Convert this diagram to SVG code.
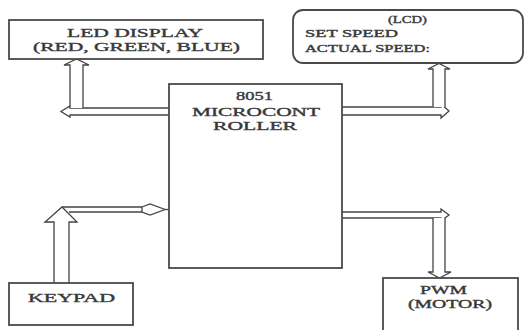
<svg xmlns="http://www.w3.org/2000/svg" width="525" height="330" viewBox="0 0 525 330">
<style>
.box{fill:#fff;stroke:#4a4a4a;stroke-width:1.8}
.t{font-family:"Liberation Serif","Times New Roman",serif;fill:#333;stroke:#444;stroke-width:0.4;font-size:13px}
.s{font-size:10.5px}
.p{font-size:12px}
.c{fill:#fff;stroke:#444;stroke-width:1.3;stroke-linejoin:miter}
.l{fill:none;stroke:#444;stroke-width:1.3}
</style>
<rect width="525" height="330" fill="#fff"/>
<g id="connectors">
  <path class="c" d="M169,108 L70,108 L70,106 L61,111.5 L70,117 L70,115 L169,115"/>
  <path class="c" d="M70,108 L70,65 L64,65 L76.5,59 L89,65 L83,65 L83,108"/>
  <path class="c" d="M342,107 L441,107 L441,104 L449,111 L441,118 L441,115 L342,115"/>
  <path class="c" d="M433,107 L433,69 L428,69 L439,63.5 L450,69 L445,69 L445,107"/>
  <path class="c" d="M54,283 L54,222 L45,222 L62,207 L77,222 L69,222 L69,283"/>
  <path class="l" d="M62,207 L142,207 M69,212 L142,212"/>
  <path class="c" d="M142,207 L150,204 L165,209.5 L150,215 L142,212 Z"/>
  <path class="l" d="M165,209.5 L169,209.5"/>
  <path class="c" d="M342,212 L441,212 L441,209 L449,215 L441,221 L441,218 L342,218"/>
  <path class="c" d="M433,218 L433,272 L428,272 L439.5,278 L451,272 L445,272 L445,218"/>
</g>
<g id="led">
  <rect class="box" x="9" y="20" width="254" height="39"/>
  <text class="t" x="67" y="37" textLength="136" lengthAdjust="spacingAndGlyphs">LED DISPLAY</text>
  <text class="t" x="33" y="51" textLength="207" lengthAdjust="spacingAndGlyphs">(RED, GREEN, BLUE)</text>
</g>
<g id="lcd">
  <rect class="box" x="293" y="10" width="230" height="53" rx="10"/>
  <text class="t s" x="388" y="23" textLength="39" lengthAdjust="spacingAndGlyphs">(LCD)</text>
  <text class="t s" x="305" y="37" textLength="93" lengthAdjust="spacingAndGlyphs">SET SPEED</text>
  <text class="t s" x="305" y="52" textLength="125" lengthAdjust="spacingAndGlyphs">ACTUAL SPEED:</text>
</g>
<g id="micro">
  <rect class="box" x="169" y="84" width="173" height="184"/>
  <text class="t" x="236" y="100" textLength="37" lengthAdjust="spacingAndGlyphs">8051</text>
  <text class="t" x="192" y="116" textLength="128" lengthAdjust="spacingAndGlyphs">MICROCONT</text>
  <text class="t" x="213" y="130" textLength="84" lengthAdjust="spacingAndGlyphs">ROLLER</text>
</g>
<g id="keypad">
  <rect class="box" x="9" y="283" width="124" height="42"/>
  <text class="t" x="28" y="302" textLength="87" lengthAdjust="spacingAndGlyphs">KEYPAD</text>
</g>
<g id="pwm">
  <rect class="box" x="383" y="278" width="135" height="60"/>
  <text class="t p" x="420" y="294" textLength="47" lengthAdjust="spacingAndGlyphs">PWM</text>
  <text class="t p" x="408" y="308" textLength="84" lengthAdjust="spacingAndGlyphs">(MOTOR)</text>
</g>
</svg>
